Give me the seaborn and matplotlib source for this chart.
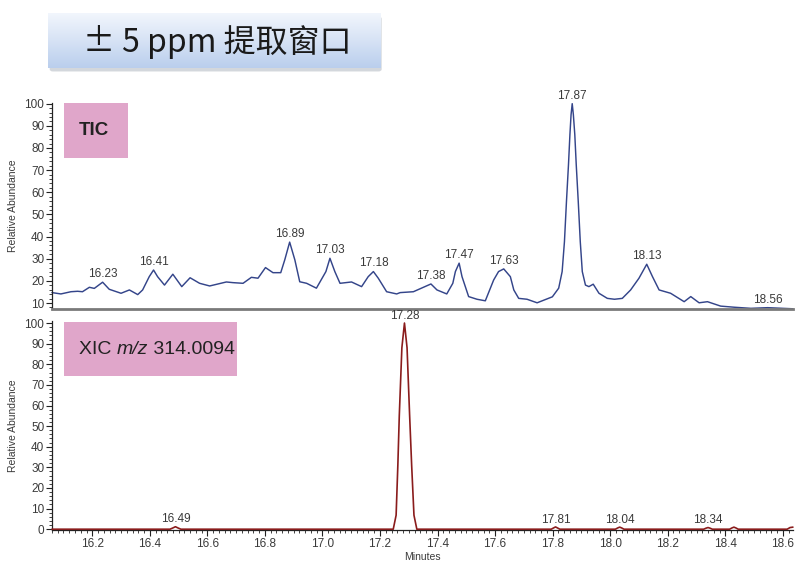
import numpy as np
import pandas as pd
import matplotlib
matplotlib.use("Agg")
import matplotlib.pyplot as plt
from matplotlib.patches import Rectangle, FancyBboxPatch
from matplotlib.ticker import MultipleLocator, FormatStrFormatter
import seaborn as sns

# ---------------- data ----------------
tic_time = [16.060, 16.091, 16.126, 16.149, 16.166, 16.190, 16.207, 16.236, 16.259, 16.300,
            16.329, 16.358, 16.375, 16.398, 16.413, 16.427, 16.451, 16.480, 16.511, 16.540,
            16.573, 16.608, 16.666, 16.689, 16.724, 16.753, 16.776, 16.802, 16.828, 16.855,
            16.869, 16.886, 16.904, 16.921, 16.945, 16.979, 17.012, 17.026, 17.043, 17.061,
            17.101, 17.136, 17.159, 17.177, 17.194, 17.223, 17.258, 17.270, 17.316, 17.377,
            17.398, 17.432, 17.453, 17.462, 17.475, 17.485, 17.508, 17.537, 17.566, 17.595,
            17.612, 17.630, 17.653, 17.665, 17.682, 17.711, 17.746, 17.799, 17.821, 17.833,
            17.841, 17.848, 17.855, 17.860, 17.864, 17.868, 17.872, 17.877, 17.882, 17.889,
            17.896, 17.903, 17.914, 17.926, 17.941, 17.961, 17.990, 18.015, 18.042, 18.071,
            18.100, 18.127, 18.147, 18.170, 18.210, 18.257, 18.280, 18.309, 18.338, 18.384,
            18.431, 18.489, 18.547, 18.635]
tic_abund = [14.7, 14.1, 15.1, 15.3, 15.1, 17.1, 16.6, 19.4, 16.2, 14.4,
             15.9, 13.8, 15.9, 21.9, 24.9, 21.9, 18.1, 23.0, 17.4, 21.4,
             18.9, 17.7, 19.5, 19.2, 18.9, 21.6, 21.2, 26.0, 23.7, 23.7,
             29.5, 37.5, 29.5, 19.6, 18.9, 16.7, 24.2, 30.2, 24.2, 18.9,
             19.5, 17.4, 21.9, 24.2, 21.2, 15.1, 14.1, 14.7, 15.1, 18.6,
             15.9, 14.1, 18.9, 24.2, 28.0, 21.9, 12.9, 11.7, 11.0, 20.4,
             24.2, 25.4, 21.9, 15.9, 12.1, 11.7, 10.1, 12.8, 16.7, 24.2,
             37.7, 55.8, 72.4, 86.0, 95.0, 100.0, 95.0, 86.0, 72.4, 55.8,
             37.7, 24.2, 18.1, 17.4, 18.5, 14.4, 12.1, 11.7, 12.1, 15.9,
             21.2, 27.5, 21.9, 15.9, 14.4, 10.6, 12.9, 10.1, 10.6, 8.6,
             8.1, 7.6, 7.9, 7.4]
tic_labels = ["16.23", "16.41", "16.89", "17.03", "17.18", "17.38", "17.47",
              "17.63", "17.87", "18.13", "18.56"]

xic_time = [16.060, 16.470, 16.480, 16.489, 16.498, 16.508, 17.246, 17.256, 17.262, 17.267,
            17.276, 17.285, 17.294, 17.303, 17.310, 17.318, 17.328, 17.795, 17.803, 17.810,
            17.817, 17.825, 18.018, 18.026, 18.033, 18.040, 18.048, 18.325, 18.333, 18.340,
            18.347, 18.355, 18.415, 18.423, 18.430, 18.437, 18.445, 18.615, 18.625, 18.635]
xic_abund = [0.0, 0.0, 0.6, 1.2, 0.6, 0.0, 0.0, 6.8, 31.0, 55.0,
             88.0, 100.0, 88.0, 55.0, 31.0, 6.8, 0.0, 0.0, 0.6, 1.1,
             0.6, 0.0, 0.0, 0.6, 1.0, 0.6, 0.0, 0.0, 0.5, 0.8,
             0.5, 0.0, 0.0, 0.6, 1.0, 0.6, 0.0, 0.0, 0.8, 1.0]
xic_labels = ["16.49", "17.28", "17.81", "18.04", "18.34"]

x_ticks = [16.2, 16.4, 16.6, 16.8, 17.0, 17.2, 17.4, 17.6, 17.8, 18.0, 18.2, 18.4, 18.6]

title_text = "± 5 ppm 提取窗口"
tic_box_text = "TIC"
xic_box_text = ["XIC ", "m/z", " 314.0094"]
y_label = "Relative Abundance"
x_label = "Minutes"

tic_df = pd.DataFrame({"time": tic_time, "abund": tic_abund})
xic_df = pd.DataFrame({"time": xic_time, "abund": xic_abund})

# ---------------- style ----------------
sns.set_theme(style="white")
plt.rcParams["font.family"] = ["Liberation Sans", "DejaVu Sans"]
plt.rcParams["axes.unicode_minus"] = False

TIC_COLOR = "#34458a"
XIC_COLOR = "#8a1c1c"
PINK = "#e0a6ca"
TXT = "#3a3a3a"

fig = plt.figure(figsize=(8.01, 5.65), dpi=100)
fig.patch.set_facecolor("white")

XMIN, XMAX = 16.06, 18.635
ax1 = fig.add_axes([0.0649, 0.4531, 0.925, 0.3646])
ax2 = fig.add_axes([0.0649, 0.0619, 0.925, 0.3700])

sns.lineplot(data=tic_df, x="time", y="abund", ax=ax1, color=TIC_COLOR,
             linewidth=1.05, sort=False, clip_on=False, solid_joinstyle="round")
sns.lineplot(data=xic_df, x="time", y="abund", ax=ax2, color=XIC_COLOR,
             linewidth=1.2, sort=False, clip_on=False, zorder=5, solid_joinstyle="round")

for ax in (ax1, ax2):
    ax.set_xlim(XMIN, XMAX)
    ax.set_facecolor("white")
    for s in ("top", "right"):
        ax.spines[s].set_visible(False)
    ax.spines["left"].set_color("#222222")
    ax.spines["left"].set_linewidth(0.9)
    ax.yaxis.set_major_locator(MultipleLocator(10))
    ax.yaxis.set_minor_locator(MultipleLocator(2))
    ax.tick_params(axis="y", which="major", direction="out", length=4, width=0.8,
                   color="#222222", labelsize=8.5, labelcolor=TXT, pad=1.5, left=True)
    ax.tick_params(axis="y", which="minor", direction="out", length=2.5, width=0.6,
                   color="#222222", left=True)
    ax.set_ylabel(y_label, fontsize=7.5, color=TXT, labelpad=2)
    ax.grid(False)

# top panel
ax1.set_ylim(7.3, 100.3)
ax1.set_yticks(list(range(10, 101, 10)))
ax1.set_xlabel("")
ax1.set_xticks([])
ax1.spines["bottom"].set_color("#7a7a7a")
ax1.spines["bottom"].set_linewidth(2.0)
ax1.yaxis.set_label_coords(-0.046, 0.5)

# bottom panel
ax2.set_ylim(-0.4, 101)
ax2.set_yticks(list(range(0, 101, 10)))
ax2.set_xticks(x_ticks)
ax2.xaxis.set_major_formatter(FormatStrFormatter("%.1f"))
ax2.xaxis.set_minor_locator(MultipleLocator(0.02))
ax2.spines["bottom"].set_color("#222222")
ax2.spines["bottom"].set_linewidth(0.9)
ax2.tick_params(axis="x", which="major", direction="out", length=4, width=0.8,
                color="#222222", labelsize=8.5, labelcolor=TXT, pad=2, bottom=True)
ax2.tick_params(axis="x", which="minor", direction="out", length=2.2, width=0.6,
                color="#222222", bottom=True)
ax2.set_xlabel(x_label, fontsize=7.5, color=TXT, labelpad=1)
ax2.yaxis.set_label_coords(-0.046, 0.5)

# peak labels
def label_peaks(ax, df, labels, dy):
    t = df["time"].to_numpy()
    a = df["abund"].to_numpy()
    for lab in labels:
        lt = float(lab)
        idx = np.where(np.abs(t - lt) <= 0.02)[0]
        j = idx[np.argmax(a[idx])]
        ax.annotate(lab, xy=(t[j], a[j]), xytext=(0, dy), textcoords="offset points",
                    ha="center", va="bottom", fontsize=8.5, color=TXT,
                    annotation_clip=False)

label_peaks(ax1, tic_df, tic_labels, 1.5)
label_peaks(ax2, xic_df, xic_labels, 1.0)

# pink boxes
fig.patches.append(Rectangle((0.0799, 0.7204), 0.0799, 0.0973, transform=fig.transFigure,
                             facecolor=PINK, edgecolor="none", zorder=3))
fig.text(0.0986, 0.7690, tic_box_text, fontsize=13.5, fontweight="bold", color="#222222",
         ha="left", va="center", zorder=4)

fig.patches.append(Rectangle((0.0799, 0.3345), 0.216, 0.0956, transform=fig.transFigure,
                             facecolor=PINK, edgecolor="none", zorder=3))
t1 = fig.text(0.0986, 0.3823, xic_box_text[0], fontsize=14, color="#222222",
              ha="left", va="center", zorder=4)
t2 = fig.text(0, 0, xic_box_text[1], fontsize=14, color="#222222", style="italic",
              zorder=4)
t3 = fig.text(0, 0, xic_box_text[2], fontsize=14, color="#222222", zorder=4)
fig.canvas.draw()
r = fig.canvas.get_renderer()
bb1 = t1.get_window_extent(r).transformed(fig.transFigure.inverted())
t2.set_position((bb1.x1, bb1.y0))
t2.set_va("bottom")
bb2 = t2.get_window_extent(r).transformed(fig.transFigure.inverted())
t3.set_position((bb2.x1, bb1.y0))
t3.set_va("bottom")

# title box with gradient (shadow drawn beneath it)
shadow = FancyBboxPatch((0.0620, 0.8735), 0.4145, 0.0973,
                        boxstyle="round,pad=0,rounding_size=0.004",
                        transform=fig.transFigure, facecolor="#a9b0bb", edgecolor="none",
                        alpha=0.5, zorder=1)
fig.patches.append(shadow)
tax = fig.add_axes([0.0599, 0.8796, 0.4145, 0.0973])
tax.set_zorder(6)
grad = np.linspace(0, 1, 100).reshape(-1, 1)
top_c = np.array([0.95, 0.965, 0.99])
bot_c = np.array([0.73, 0.81, 0.93])
img = top_c[None, None, :] * (1 - grad[:, :, None]) + bot_c[None, None, :] * grad[:, :, None]
tax.imshow(img, aspect="auto", extent=[0, 1, 0, 1], origin="upper")
tax.set_xlim(0, 1)
tax.set_ylim(0, 1)
tax.axis("off")
tax.text(0.51, 0.47, title_text, fontsize=23, color="#1a1a1a", ha="center", va="center",
         family=["Noto Sans CJK SC", "DejaVu Sans"], fontweight="medium")

fig.savefig("out.png", dpi=100, facecolor="white")
